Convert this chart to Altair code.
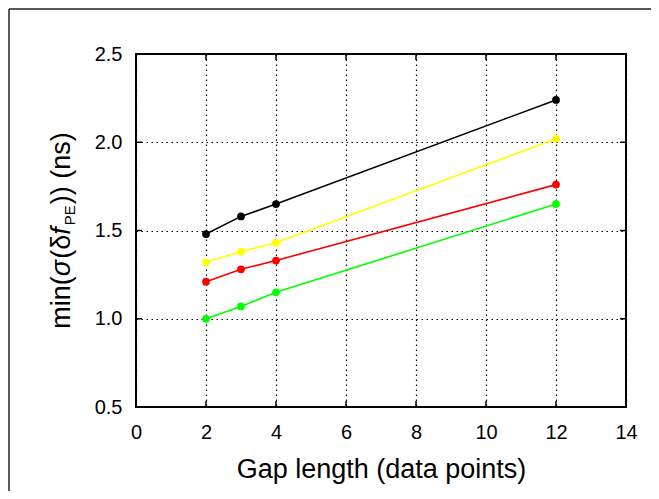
import altair as alt
import pandas as pd

# ---- data ----
gap_length = [2, 3, 4, 12]
series_names = ["black", "yellow", "red", "green"]
series_colors = ["#000000", "#ffff00", "#ff0000", "#00ff00"]
black_vals = [1.48, 1.58, 1.65, 2.24]
yellow_vals = [1.32, 1.38, 1.43, 2.02]
red_vals = [1.21, 1.28, 1.33, 1.76]
green_vals = [1.00, 1.07, 1.15, 1.65]

x_ticks = [0, 2, 4, 6, 8, 10, 12, 14]
y_ticks = [0.5, 1.0, 1.5, 2.0, 2.5]
x_inner_ticks = [2, 4, 6, 8, 10, 12]
y_inner_ticks = [1.0, 1.5, 2.0]

x_title = "Gap length (data points)"

rows = []
for name, vals in zip(series_names, [black_vals, yellow_vals, red_vals, green_vals]):
    for g, v in zip(gap_length, vals):
        rows.append({"gap": g, "val": v, "series": name})
df = pd.DataFrame(rows)

W, H = 490, 353
FONT = "Liberation Sans"

xscale = alt.Scale(domain=[0, 14], nice=False, zero=False)
yscale = alt.Scale(domain=[0.5, 2.5], nice=False, zero=False)
cscale = alt.Scale(domain=series_names, range=series_colors)

x_axis = alt.Axis(
    values=x_ticks, format="d", grid=True, domain=False, ticks=False,
    labelFont=FONT, labelFontSize=20, labelColor="black", labelPadding=15,
    labelFlush=False,
    title=x_title, titleFont=FONT, titleFontSize=27, titleFontWeight="normal",
    titleColor="black", titleX=W / 2, titleY=70, titleBaseline="alphabetic",
    titleAlign="center", titleAnchor="middle",
    gridColor="black", gridDash=[1.5, 3.5], gridWidth=1.2, gridOpacity=1,
)
y_axis = alt.Axis(
    values=y_ticks, format=".1f", grid=True, domain=False, ticks=False,
    labelFont=FONT, labelFontSize=20, labelColor="black", labelPadding=14,
    labelFlush=False,
    title=None,
    gridColor="black", gridDash=[1.5, 3.5], gridWidth=1.2, gridOpacity=1,
)

base = alt.Chart(df)
lines = base.mark_line(strokeWidth=1.6).encode(
    x=alt.X("gap:Q", scale=xscale, axis=x_axis),
    y=alt.Y("val:Q", scale=yscale, axis=y_axis),
    color=alt.Color("series:N", scale=cscale, legend=None),
)
points = base.mark_circle(size=60, opacity=1).encode(
    x=alt.X("gap:Q", scale=xscale),
    y=alt.Y("val:Q", scale=yscale),
    color=alt.Color("series:N", scale=cscale, legend=None),
)

# ---- inward ticks on all four sides ----
xt = pd.DataFrame({"gap": x_inner_ticks})
yt = pd.DataFrame({"val": y_inner_ticks})
TL = 6
tick_layers = []
for y0, y1 in [(H, H - TL), (0, TL)]:
    tick_layers.append(
        alt.Chart(xt).mark_rule(color="black", strokeWidth=1.5).encode(
            x=alt.X("gap:Q", scale=xscale),
            y=alt.value(y0), y2=alt.value(y1),
        )
    )
for x0, x1 in [(0, TL), (W, W - TL)]:
    tick_layers.append(
        alt.Chart(yt).mark_rule(color="black", strokeWidth=1.5).encode(
            y=alt.Y("val:Q", scale=yscale),
            x=alt.value(x0), x2=alt.value(x1),
        )
    )

# ---- y title built from pieces (for the PE subscript) ----
one = pd.DataFrame({"a": [0]})
em = {"m": 0.833, "i": 0.222, "n": 0.556, "(": 0.333, ")": 0.333, " ": 0.278,
      "s": 0.5, "σ": 0.617, "δ": 0.556, "f": 0.278, "P": 0.667, "E": 0.667}
pieces = [
    ("min(", 27, "normal", 0, 0),
    ("σ", 27, "italic", 0, 1),
    ("(δ", 27, "normal", 0, 0),
    ("f", 27, "italic", 0, 2),
    ("PE", 15, "normal", 5, 1),
    (")) (ns)", 27, "normal", 0, 0),
]
widths = [sum(em[c] for c in t) * s + extra for t, s, st, dx, extra in pieces]
total = sum(widths)
ycur = H / 2 + total / 2
title_x = -66
title_layers = []
for (t, s, st, dx, extra), w in zip(pieces, widths):
    title_layers.append(
        alt.Chart(one).mark_text(
            text=t, angle=270, align="left", baseline="alphabetic",
            font=FONT, fontSize=s, fontStyle=st, color="black",
        ).encode(x=alt.value(title_x + dx), y=alt.value(ycur))
    )
    ycur -= w

# ---- outer frame: only its top and left edges fall inside the page ----
frame_top = alt.Chart(one).mark_rule(color="#222222", strokeWidth=1.5).encode(
    x=alt.value(-127), x2=alt.value(W + 60), y=alt.value(-45)
)
frame_left = alt.Chart(one).mark_rule(color="#222222", strokeWidth=1.5).encode(
    x=alt.value(-127), y=alt.value(-45), y2=alt.value(H + 120)
)

chart = alt.layer(
    lines, points, *tick_layers, frame_top, frame_left, *title_layers
).properties(
    width=W, height=H,
    autosize=alt.AutoSizeParams(type="none"),
    padding={"left": 128, "top": 46, "right": 25, "bottom": 84},
).configure_view(
    stroke="black", strokeWidth=2
)

chart.save("out.html", embed_options={"renderer": "svg", "actions": False})
